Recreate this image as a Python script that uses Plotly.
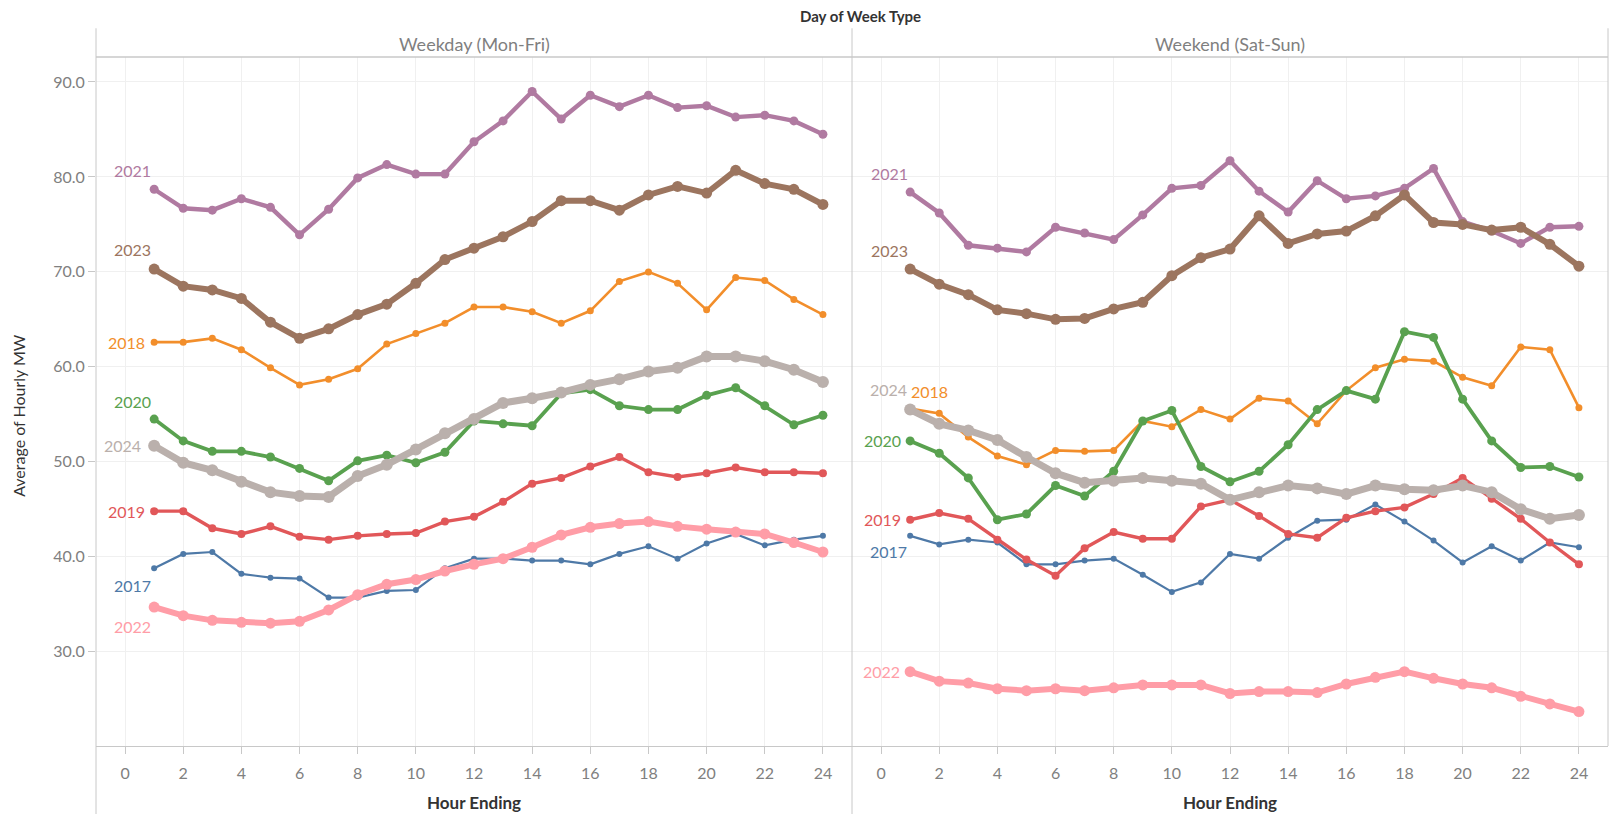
import plotly.graph_objects as go
from plotly.subplots import make_subplots

hours = list(range(1, 25))
years = [2017, 2018, 2019, 2020, 2021, 2022, 2023, 2024]
panels = ["Weekday (Mon-Fri)", "Weekend (Sat-Sun)"]
y_ticks = [30, 40, 50, 60, 70, 80, 90]
x_ticks = list(range(0, 25, 2))

# weekday averages per hour ending
wd_2017 = [38.8, 40.3, 40.5, 38.2, 37.8, 37.7, 35.7, 35.7, 36.4, 36.5, 38.8, 39.8,
           39.8, 39.6, 39.6, 39.2, 40.3, 41.1, 39.8, 41.4, 42.4, 41.2, 41.8, 42.2]
wd_2018 = [62.6, 62.6, 63.0, 61.8, 59.9, 58.1, 58.7, 59.8, 62.4, 63.5, 64.6, 66.3,
           66.3, 65.8, 64.6, 65.9, 69.0, 70.0, 68.8, 66.0, 69.4, 69.1, 67.1, 65.5]
wd_2019 = [44.8, 44.8, 43.0, 42.4, 43.2, 42.1, 41.8, 42.2, 42.4, 42.5, 43.7, 44.2,
           45.8, 47.7, 48.3, 49.5, 50.5, 48.9, 48.4, 48.8, 49.4, 48.9, 48.9, 48.8]
wd_2020 = [54.5, 52.2, 51.1, 51.1, 50.5, 49.3, 48.0, 50.1, 50.7, 49.9, 51.0, 54.3,
           54.0, 53.8, 57.2, 57.6, 55.9, 55.5, 55.5, 57.0, 57.8, 55.9, 53.9, 54.9]
wd_2021 = [78.7, 76.7, 76.5, 77.7, 76.8, 73.9, 76.6, 79.9, 81.3, 80.3, 80.3, 83.7,
           85.9, 89.0, 86.1, 88.6, 87.4, 88.6, 87.3, 87.5, 86.3, 86.5, 85.9, 84.5]
wd_2022 = [34.7, 33.8, 33.3, 33.1, 33.0, 33.2, 34.4, 36.0, 37.1, 37.6, 38.5, 39.2,
           39.8, 41.0, 42.3, 43.1, 43.5, 43.7, 43.2, 42.9, 42.6, 42.4, 41.5, 40.5]
wd_2023 = [70.3, 68.5, 68.1, 67.2, 64.7, 63.0, 64.0, 65.5, 66.6, 68.8, 71.3, 72.5,
           73.7, 75.3, 77.5, 77.5, 76.5, 78.1, 79.0, 78.3, 80.7, 79.3, 78.7, 77.1]
wd_2024 = [51.7, 49.9, 49.1, 47.9, 46.8, 46.4, 46.3, 48.5, 49.7, 51.3, 53.0, 54.5,
           56.2, 56.7, 57.3, 58.1, 58.7, 59.5, 59.9, 61.1, 61.1, 60.6, 59.7, 58.4]

# weekend averages per hour ending
we_2017 = [42.2, 41.3, 41.8, 41.5, 39.2, 39.2, 39.6, 39.8, 38.1, 36.3, 37.3, 40.3,
           39.8, 42.0, 43.8, 43.9, 45.5, 43.7, 41.7, 39.4, 41.1, 39.6, 41.5, 41.0]
we_2018 = [55.6, 55.1, 52.6, 50.6, 49.7, 51.2, 51.1, 51.2, 54.3, 53.7, 55.5, 54.5,
           56.7, 56.4, 54.0, 57.5, 59.9, 60.8, 60.6, 58.9, 58.0, 62.1, 61.8, 55.7]
we_2019 = [43.9, 44.6, 44.0, 41.8, 39.7, 38.0, 40.9, 42.6, 41.9, 41.9, 45.3, 46.0,
           44.3, 42.4, 42.0, 44.1, 44.8, 45.2, 46.6, 48.3, 46.1, 44.0, 41.5, 39.2]
we_2020 = [52.2, 50.9, 48.3, 43.9, 44.5, 47.5, 46.4, 49.0, 54.3, 55.4, 49.5, 47.9,
           49.0, 51.8, 55.5, 57.5, 56.6, 63.7, 63.1, 56.6, 52.2, 49.4, 49.5, 48.4]
we_2021 = [78.4, 76.2, 72.8, 72.5, 72.1, 74.7, 74.1, 73.4, 76.0, 78.8, 79.1, 81.7,
           78.5, 76.3, 79.6, 77.7, 78.0, 78.8, 80.9, 75.3, 74.3, 73.0, 74.7, 74.8]
we_2022 = [27.9, 26.9, 26.7, 26.1, 25.9, 26.1, 25.9, 26.2, 26.5, 26.5, 26.5, 25.6,
           25.8, 25.8, 25.7, 26.6, 27.3, 27.9, 27.2, 26.6, 26.2, 25.3, 24.5, 23.7]
we_2023 = [70.3, 68.7, 67.6, 66.0, 65.6, 65.0, 65.1, 66.1, 66.8, 69.6, 71.5, 72.4,
           75.9, 73.0, 74.0, 74.3, 75.9, 78.1, 75.2, 75.0, 74.4, 74.7, 72.9, 70.6]
we_2024 = [55.5, 54.0, 53.3, 52.3, 50.5, 48.8, 47.8, 48.0, 48.3, 48.0, 47.7, 46.0,
           46.8, 47.5, 47.2, 46.6, 47.5, 47.1, 47.0, 47.5, 46.8, 45.0, 44.0, 44.4]

weekday = dict(zip(years, [wd_2017, wd_2018, wd_2019, wd_2020, wd_2021, wd_2022, wd_2023, wd_2024]))
weekend = dict(zip(years, [we_2017, we_2018, we_2019, we_2020, we_2021, we_2022, we_2023, we_2024]))

colors = {
    2017: "#4e79a7", 2018: "#f28e2b", 2019: "#e15759", 2020: "#59a14f",
    2021: "#b07aa1", 2022: "#ff9da7", 2023: "#9c755f", 2024: "#bab0ac",
}
line_w = {2017: 2.2, 2018: 2.6, 2019: 3.4, 2020: 3.8, 2021: 4.4, 2022: 6.0, 2023: 6.0, 2024: 7.0}
mark_s = {2017: 6, 2018: 7, 2019: 8, 2020: 9, 2021: 9, 2022: 11, 2023: 11, 2024: 12}

# start-of-line label offsets (px): xshift, yshift, anchor
shift_wd = {
    2017: (-1, -17, "right"), 2018: (-7, 0, "right"), 2019: (-7, 0, "right"),
    2020: (-1, 18, "right"), 2021: (-1, 19, "right"), 2022: (-1, -19, "right"),
    2023: (-1, 20, "right"), 2024: (-11, 0, "right"),
}
shift_we = {
    2017: (-1, -16, "right"), 2018: (-1, 17, "left"), 2019: (-7, 0, "right"),
    2020: (-7, 0, "right"), 2021: (0, 19, "right"), 2022: (-8, 0, "right"),
    2023: (0, 19, "right"), 2024: (-1, 20, "right"),
}

FONT = "Lato"
GRID = "#f0f0f0"
BORDER = "#c8c8c8"

fig = make_subplots(rows=1, cols=2, shared_yaxes=True, horizontal_spacing=0)

for col, (data, shifts) in enumerate([(weekday, shift_wd), (weekend, shift_we)], start=1):
    xref = "x" if col == 1 else "x2"
    yref = "y" if col == 1 else "y2"
    for yr in years:
        fig.add_trace(
            go.Scatter(
                x=hours, y=data[yr],
                mode="lines+markers",
                line=dict(color=colors[yr], width=line_w[yr]),
                marker=dict(color=colors[yr], size=mark_s[yr]),
                showlegend=False,
                name=str(yr),
            ),
            row=1, col=col,
        )
        dx, dy, anchor = shifts[yr]
        fig.add_annotation(
            x=hours[0], y=data[yr][0], xref=xref, yref=yref,
            text=str(yr), showarrow=False,
            xanchor=anchor, yanchor="middle",
            xshift=dx, yshift=dy,
            font=dict(family=FONT, size=16, color=colors[yr]),
        )

# header / facet titles
fig.add_annotation(
    text="<b>Day of Week Type</b>", x=0.5055, y=1.0595, xref="paper", yref="paper",
    xanchor="center", yanchor="middle",
    showarrow=False, font=dict(family=FONT, size=15, color="#333333"),
)
for i, p in enumerate(panels):
    fig.add_annotation(
        text=p, x=0.25 + 0.5 * i, y=1.0195, xref="paper", yref="paper",
        xanchor="center", yanchor="middle",
        showarrow=False, font=dict(family=FONT, size=18, color="#7f7f7f"),
    )
    fig.add_annotation(
        text="<b>Hour Ending</b>", x=0.25 + 0.5 * i, y=-0.0827, xref="paper", yref="paper",
        xanchor="center", yanchor="middle",
        showarrow=False, font=dict(family=FONT, size=17, color="#333333"),
    )
fig.add_annotation(
    text="Average of Hourly MW", x=-0.0512, y=0.48, xref="paper", yref="paper",
    xanchor="center", yanchor="middle",
    textangle=-90, showarrow=False, font=dict(family=FONT, size=16, color="#333333"),
)

# panel borders
for xp in [0, 0.5]:
    fig.add_shape(type="line", xref="paper", yref="paper", x0=xp, x1=xp,
                  y0=-0.1, y1=1.0417, line=dict(color=BORDER, width=1))
fig.add_shape(type="line", xref="paper", yref="paper", x0=1, x1=1,
              y0=0, y1=1.0417, line=dict(color=BORDER, width=1))
fig.add_shape(type="line", xref="paper", yref="paper", x0=0, x1=1,
              y0=1, y1=1, line=dict(color=BORDER, width=1.5))

fig.update_xaxes(
    range=[-1, 25], tickvals=x_ticks, showgrid=True, gridcolor=GRID, zeroline=False,
    showline=True, linecolor=BORDER, ticks="outside", ticklen=7, tickcolor=BORDER,
    ticklabelstandoff=6,
    tickfont=dict(family=FONT, size=16, color="#808080"),
)
fig.update_yaxes(
    range=[20.07, 92.63], tickvals=y_ticks, tickformat=".1f", showgrid=True,
    gridcolor=GRID, zeroline=False, showline=False,
    tickfont=dict(family=FONT, size=16, color="#808080"),
)
fig.update_yaxes(ticks="outside", ticklen=7, tickcolor=BORDER, row=1, col=1)

# the page body adds an 8px margin, so the figure is sized to fit inside it
fig.update_layout(
    width=1601, height=806,
    plot_bgcolor="white", paper_bgcolor="white",
    margin=dict(l=88, r=1, t=49, b=68),
    font=dict(family=FONT),
)

fig.write_html("out.html")
